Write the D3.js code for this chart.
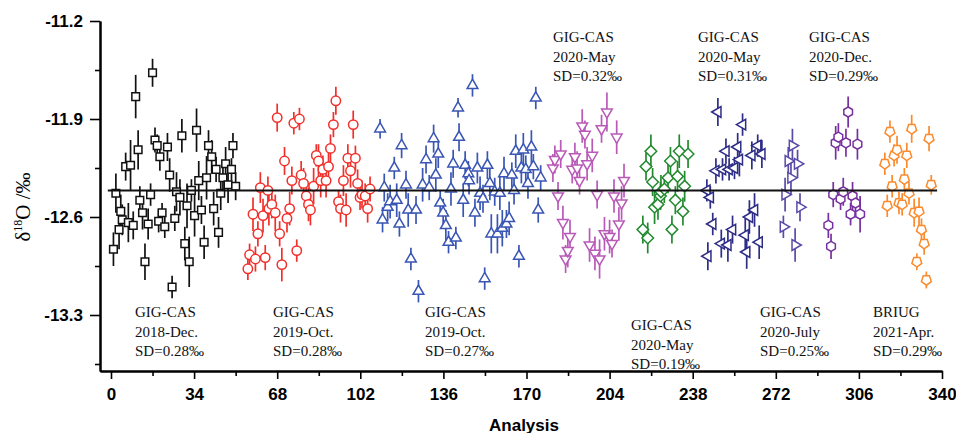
<!DOCTYPE html>
<html>
<head>
<meta charset="utf-8">
<script src="https://cdn.jsdelivr.net/npm/d3@7"></script>
<style>
  body { margin: 0; background: #fff; }
  svg { display: block; }
</style>
</head>
<body>
<script>
// ---- data (x = analysis no., y = d18O permil, err = half error bar) ----
const dec2018X = [1,2,3.3,4,4.6,6,7.1,8,9.1,10.1,11.1,11.8,12.9,13.9,15.2,16.2,17,18,18.9,20,19.5,20.9,22,23.1,24,25,26.1,26.8,28.2,29,30.2,31.1,32,32.9,34.2,35,35.9,37,38.1,39.1,39.9,41.2,42,43,44,44.9,45.8,46.9,47.9,49.3,49.9,51];
const dec2018Y = [-12.83,-12.43,-12.69,-12.56,-12.62,-12.24,-12.64,-12.23,-12.66,-11.74,-12.12,-12.48,-12.57,-12.92,-12.65,-12.44,-11.57,-12.05,-12.09,-12.17,-12.63,-12.57,-12.67,-12.10,-12.30,-13.10,-12.61,-12.42,-12.46,-12.02,-12.79,-12.52,-12.92,-12.41,-12.59,-11.98,-12.34,-12.55,-12.78,-12.32,-12.09,-12.17,-12.54,-12.26,-12.71,-12.43,-12.32,-12.22,-12.37,-12.26,-12.09,-12.38];
const dec2018Err = [0.12,0.14,0.14,0.12,0.11,0.10,0.14,0.18,0.10,0.155,0.14,0.10,0.12,0.13,0.11,0.08,0.10,0.09,0.08,0.10,0.08,0.07,0.08,0.10,0.12,0.08,0.09,0.14,0.13,0.12,0.12,0.16,0.18,0.08,0.15,0.155,0.14,0.10,0.12,0.155,0.11,0.12,0.12,0.09,0.11,0.12,0.11,0.12,0.13,0.08,0.09,0.10];

const oct2019aX = [56,56.7,58.1,59.1,60.1,61.1,62.2,63.1,64.2,64.6,65.8,67.2,68,69,69.9,71,72,73.1,74,74.8,76,77.1,77.8,78.8,79.9,80.8,81.6,82.9,84,84.9,85.8,86.7,88,89,89.8,91,92,93.1,93.9,95.1,96.2,96.9,98,99.1,100,100.9,101.9,102.7,104,105,106];
const oct2019aY = [-12.97,-12.87,-12.58,-12.90,-12.72,-12.39,-12.59,-12.89,-12.41,-12.54,-12.51,-12.57,-11.89,-12.72,-12.94,-12.20,-12.61,-12.54,-12.34,-11.93,-12.84,-11.90,-12.30,-12.36,-12.45,-12.51,-12.55,-12.38,-12.16,-12.20,-12.34,-12.26,-12.34,-12.24,-12.11,-11.94,-11.77,-12.49,-12.54,-12.34,-12.55,-12.18,-12.27,-11.94,-12.18,-12.36,-12.46,-12.44,-12.45,-12.54,-12.40];
const oct2019aErr = [0.08,0.08,0.12,0.09,0.09,0.11,0.12,0.09,0.10,0.12,0.10,0.13,0.10,0.09,0.12,0.10,0.10,0.12,0.10,0.08,0.08,0.08,0.10,0.11,0.10,0.12,0.11,0.13,0.08,0.12,0.12,0.10,0.12,0.13,0.10,0.09,0.10,0.08,0.10,0.11,0.12,0.10,0.12,0.10,0.09,0.10,0.09,0.10,0.09,0.10,0.09];

const oct2019bX = [110.1,111.8,111.1,113.2,114.2,115.9,116.9,118,118.9,120.7,121.6,122.7,124.8,125.8,127.5,128.9,130.2,132,132.9,133.9,134.7,135.9,137,138.1,139.1,140,141.1,142,142.4,144.1,144.9,146.2,146.5,147.9,148.9,149.9,151,152.2,152.9,154,155,155.6,157,158.1,159.1,160.1,160.8,161.8,162.9,164,164.9,165.6,166.9,167.9,168.7,169.7,170.6,172,172.8,173.8,174.8,175.8];
const oct2019bY = [-11.97,-12.39,-12.62,-12.53,-12.49,-12.25,-12.48,-12.65,-12.09,-12.37,-12.55,-12.90,-12.55,-13.13,-12.37,-12.19,-12.39,-12.04,-12.30,-12.15,-12.50,-12.57,-12.66,-12.78,-12.40,-12.22,-12.75,-11.82,-12.03,-12.48,-12.23,-12.29,-12.34,-11.66,-12.57,-12.25,-12.43,-12.47,-13.04,-12.23,-12.36,-12.72,-12.42,-12.72,-12.43,-12.68,-12.29,-12.65,-12.61,-12.30,-12.41,-12.13,-12.88,-12.25,-12.12,-12.26,-12.36,-12.10,-12.24,-11.75,-12.55,-12.32];
const oct2019bErr = [0.07,0.10,0.09,0.10,0.12,0.08,0.12,0.09,0.09,0.10,0.12,0.08,0.10,0.08,0.12,0.10,0.09,0.10,0.12,0.10,0.09,0.10,0.11,0.08,0.12,0.10,0.08,0.07,0.10,0.12,0.10,0.09,0.10,0.08,0.10,0.11,0.12,0.10,0.08,0.10,0.12,0.14,0.10,0.14,0.12,0.13,0.12,0.10,0.12,0.09,0.10,0.12,0.08,0.11,0.12,0.10,0.11,0.12,0.09,0.08,0.09,0.09];

const may2020aX = [180.8,181.6,182.9,184,184.9,186,186.9,187.8,188.7,189.8,190.7,191.7,192.8,193.9,194.8,195.8,196.9,198,198.9,199.9,200.7,201.9,202.9,204,205,205.8,206.9,207.8,208.9,209.9];
const may2020aY = [-12.25,-12.19,-12.45,-12.15,-12.64,-12.90,-12.84,-12.74,-12.26,-12.17,-12.25,-12.34,-11.95,-12.01,-12.22,-12.80,-12.16,-12.86,-12.44,-12.90,-11.97,-12.72,-11.85,-12.74,-12.79,-12.45,-12.03,-12.65,-12.50,-12.34];
const may2020aErr = [0.10,0.10,0.10,0.10,0.12,0.10,0.12,0.12,0.10,0.10,0.12,0.10,0.12,0.10,0.12,0.12,0.12,0.12,0.10,0.14,0.10,0.12,0.14,0.12,0.10,0.12,0.12,0.12,0.12,0.12];

const may2020bX = [217.6,219.6,218.9,220.9,221.6,222.4,223.8,224.8,225.0,226.4,227.9,228.9,229.5,230.9,231.8,232.5,234.0,234.7,236.1];
const may2020bY = [-12.69,-12.75,-12.24,-12.13,-12.35,-12.53,-12.51,-12.45,-12.42,-12.40,-12.32,-12.20,-12.69,-12.48,-12.31,-12.13,-12.56,-12.38,-12.15];
const may2020bErr = [0.10,0.11,0.10,0.12,0.10,0.12,0.11,0.10,0.12,0.10,0.11,0.10,0.10,0.10,0.11,0.12,0.10,0.11,0.10];

const may2020cX = [243.8,245.2,244.2,246.2,247.5,248.3,249.7,250.2,251.6,252.4,252.9,254.3,255.1,256.4,257.1,258.4,259.5,260.1,261.2,262.2,263.3,264.6,265.2,266.3];
const may2020cY = [-12.41,-12.46,-12.88,-12.65,-12.27,-11.85,-12.79,-12.26,-12.13,-12.80,-12.26,-12.69,-12.25,-12.10,-12.19,-11.94,-12.73,-12.85,-12.60,-12.16,-12.55,-12.09,-12.78,-12.15];
const may2020cErr = [0.08,0.08,0.10,0.08,0.09,0.10,0.10,0.08,0.09,0.12,0.08,0.10,0.08,0.10,0.12,0.08,0.12,0.12,0.12,0.10,0.12,0.08,0.12,0.10];

const july2020X = [275.1,275.8,277.1,278.2,278.8,279.9,280.9,281.9];
const july2020Y = [-12.67,-12.44,-12.20,-12.32,-12.09,-12.80,-12.22,-12.53];
const july2020Err = [0.08,0.12,0.10,0.12,0.12,0.12,0.10,0.10];

const dec2020X = [293.5,294.6,295.5,296.5,297.6,298.5,299.6,300.7,301.6,302.6,303.4,304.6,305.4,306.5];
const dec2020Y = [-12.66,-12.81,-12.44,-12.07,-12.03,-12.47,-12.42,-12.07,-11.85,-12.58,-12.45,-12.50,-12.08,-12.58];
const dec2020Err = [0.09,0.09,0.09,0.12,0.10,0.08,0.10,0.10,0.11,0.08,0.10,0.08,0.11,0.13];

const apr2021X = [316.6,317.6,318.7,319.6,320.4,321.6,322.4,323.7,324.6,325.6,326.5,327.6,328.6,329.7,330.6,331.6,332.7,333.6,334.7,335.6];
const apr2021Y = [-12.22,-12.52,-11.99,-12.38,-12.16,-12.12,-12.50,-12.51,-12.33,-12.16,-12.43,-11.97,-12.57,-12.92,-12.56,-12.69,-12.79,-13.05,-12.04,-12.37];
const apr2021Err = [0.08,0.08,0.08,0.08,0.08,0.10,0.08,0.08,0.08,0.09,0.08,0.10,0.10,0.06,0.10,0.08,0.08,0.06,0.09,0.07];

const meanValue = -12.41;
const xTicks = [0, 34, 68, 102, 136, 170, 204, 238, 272, 306, 340];
const yTicks = [-11.2, -11.9, -12.6, -13.3];

const groupNotes = [
  ["GIG-CAS", "2018-Dec.", "SD=0.28‰"],
  ["GIG-CAS", "2019-Oct.", "SD=0.28‰"],
  ["GIG-CAS", "2019-Oct.", "SD=0.27‰"],
  ["GIG-CAS", "2020-May", "SD=0.32‰"],
  ["GIG-CAS", "2020-May", "SD=0.19‰"],
  ["GIG-CAS", "2020-May", "SD=0.31‰"],
  ["GIG-CAS", "2020-July", "SD=0.25‰"],
  ["GIG-CAS", "2020-Dec.", "SD=0.29‰"],
  ["BRIUG", "2021-Apr.", "SD=0.29‰"]
];

// ---- layout ----
const width = 956, height = 433;

const x = d3.scaleLinear().domain([-4.5, 340]).range([100, 942]);
const y = d3.scaleLinear().domain([-13.7, -11.2]).range([371, 21]);

// regular polygon around 0,0 ; rot = angle (deg) of first vertex from "up"
function polygon(n, r, rot) {
  const pts = d3.range(n).map(i => {
    const a = (rot + i * 360 / n) * Math.PI / 180;
    return [r * Math.sin(a), -r * Math.cos(a)];
  });
  return "M" + pts.map(p => p[0].toFixed(2) + "," + p[1].toFixed(2)).join("L") + "Z";
}

const circlePath = r => `M${-r},0A${r},${r} 0 1,1 ${r},0A${r},${r} 0 1,1 ${-r},0Z`;

const series = [
  { xs: dec2018X,  ys: dec2018Y,  es: dec2018Err,  color: "#111111", shape: polygon(4, 5.4, 45) },
  { xs: oct2019aX, ys: oct2019aY, es: oct2019aErr, color: "#f2302b", shape: circlePath(4.7) },
  { xs: oct2019bX, ys: oct2019bY, es: oct2019bErr, color: "#3a56b4", shape: polygon(3, 6.2, 0) },
  { xs: may2020aX, ys: may2020aY, es: may2020aErr, color: "#b95ab8", shape: polygon(3, 6.2, 180) },
  { xs: may2020bX, ys: may2020bY, es: may2020bErr, color: "#238a30", shape: polygon(4, 5.8, 0) },
  { xs: may2020cX, ys: may2020cY, es: may2020cErr, color: "#2e2d86", shape: polygon(3, 6.2, -90) },
  { xs: july2020X, ys: july2020Y, es: july2020Err, color: "#5a4aa8", shape: polygon(3, 6.2, 90) },
  { xs: dec2020X,  ys: dec2020Y,  es: dec2020Err,  color: "#77309f", shape: polygon(6, 5.0, 0) },
  { xs: apr2021X,  ys: apr2021Y,  es: apr2021Err,  color: "#fb8a2c", shape: polygon(5, 5.2, 180) }
];

// where each note sits (left x, first baseline)
const notePos = [
  [135, 317], [273, 317], [425, 317], [553, 42], [631, 330],
  [698, 42], [760, 317], [809, 42], [873, 317]
];

const svg = d3.select("body").append("svg")
  .attr("width", width)
  .attr("height", height)
  .style("font-family", "'Liberation Sans', Arial, sans-serif");

// x axis: major + minor ticks
const xAxis = d3.axisBottom(x)
  .tickValues(xTicks)
  .tickSize(8)
  .tickSizeOuter(0)
  .tickPadding(9)
  .tickFormat(d3.format("d"));

const xMinor = d3.axisBottom(x)
  .tickValues(xTicks.slice(0, -1).map(d => d + 17))
  .tickSize(5)
  .tickSizeOuter(0)
  .tickFormat("");

const yAxis = d3.axisLeft(y)
  .tickValues(yTicks)
  .tickSize(10)
  .tickSizeOuter(0)
  .tickPadding(7)
  .tickFormat(d => d.toFixed(1));

const yMinor = d3.axisLeft(y)
  .tickValues(yTicks.map(d => d - 0.35))
  .tickSize(5)
  .tickSizeOuter(0)
  .tickFormat("");

function styleAxis(g) {
  g.select(".domain").attr("stroke", "#000").attr("stroke-width", 2);
  g.selectAll(".tick line").attr("stroke", "#000").attr("stroke-width", 1.6);
  g.selectAll(".tick text")
    .attr("fill", "#000")
    .style("font-size", "17px")
    .style("font-weight", "bold")
    .style("font-family", "'Liberation Sans', Arial, sans-serif");
}

svg.append("g").attr("transform", `translate(0,${y.range()[0]})`).call(xMinor).call(styleAxis);
svg.append("g").attr("transform", `translate(0,${y.range()[0]})`).call(xAxis).call(styleAxis);
svg.append("g").attr("transform", `translate(${x.range()[0]},0)`).call(yMinor).call(styleAxis);
svg.append("g").attr("transform", `translate(${x.range()[0]},0)`).call(yAxis).call(styleAxis);

// axis titles
svg.append("text")
  .attr("x", 524)
  .attr("y", 431)
  .attr("text-anchor", "middle")
  .style("font-size", "17px")
  .style("font-weight", "bold")
  .text("Analysis");

const yTitle = svg.append("text")
  .attr("transform", "translate(30,207) rotate(-90)")
  .attr("text-anchor", "middle")
  .style("font-family", "'Liberation Serif', 'Times New Roman', serif")
  .style("font-size", "21px");
yTitle.append("tspan").text("δ");
yTitle.append("tspan").attr("dy", -8).style("font-size", "12px").text("18");
yTitle.append("tspan").attr("dy", 8).text("O /‰");

// error bars then markers
const plot = svg.append("g");

series.forEach(s => {
  const rows = s.xs.map((v, i) => ({ x: v, y: s.ys[i], e: s.es[i] }));
  const g = plot.append("g");

  g.selectAll("line")
    .data(rows)
    .join("line")
    .attr("x1", d => x(d.x))
    .attr("x2", d => x(d.x))
    .attr("y1", d => y(d.y - d.e))
    .attr("y2", d => y(d.y + d.e))
    .attr("stroke", s.color)
    .attr("stroke-width", 1.7);

  g.selectAll("path")
    .data(rows)
    .join("path")
    .attr("transform", d => `translate(${x(d.x)},${y(d.y)})`)
    .attr("d", s.shape)
    .attr("fill", "#fff")
    .attr("stroke", s.color)
    .attr("stroke-width", 1.5);
});

// mean line
svg.append("line")
  .attr("x1", x(-1.3))
  .attr("x2", x(338))
  .attr("y1", y(meanValue))
  .attr("y2", y(meanValue))
  .attr("stroke", "#111")
  .attr("stroke-width", 2);

// notes
const notes = svg.append("g")
  .style("font-family", "'Liberation Serif', 'Times New Roman', serif")
  .style("font-size", "15px");

groupNotes.forEach((lines, i) => {
  const [nx, ny] = notePos[i];
  notes.append("g")
    .selectAll("text")
    .data(lines)
    .join("text")
    .attr("x", nx)
    .attr("y", (d, j) => ny + j * 19.5)
    .attr("fill", "#111")
    .text(d => d);
});
</script>
</body>
</html>
